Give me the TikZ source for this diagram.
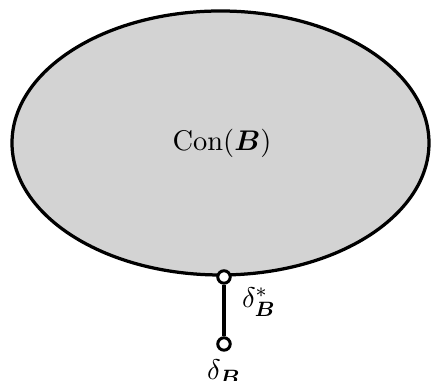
\documentclass[tikz,border=0pt]{standalone}
\usepackage{amsmath,amssymb,bm}
\definecolor{fillg}{RGB}{211,211,211}
\begin{document}
\begin{tikzpicture}[x=0.385pt,y=-0.385pt,font=\fontsize{11}{13}\selectfont,
  region/.style={draw=black,fill=fillg,line width=1.25pt},
  dot/.style={circle,draw=black,fill=white,line width=1.15pt,inner sep=0pt,minimum size=4.8pt},
  link/.style={line width=1.2pt}]
\useasboundingbox (0,0) rectangle (432,381);
\draw[region] (220.5,143) ellipse [x radius=208.5, y radius=132];
\node at (222,143) (con) {$\mathrm{Con}(\bm{B})$};
\node[dot] (top) at (224,277) {};
\node[dot] (bot) at (224,344) {};
\draw[link] (top) -- (bot);
\node[anchor=center] (ls) at (259,302) {$\delta^*_{\bm{B}}$};
\node[anchor=north,inner sep=1pt,yshift=-2pt] (lb) at (bot.south) {$\delta_{\bm{B}}$};
\end{tikzpicture}
\end{document}
